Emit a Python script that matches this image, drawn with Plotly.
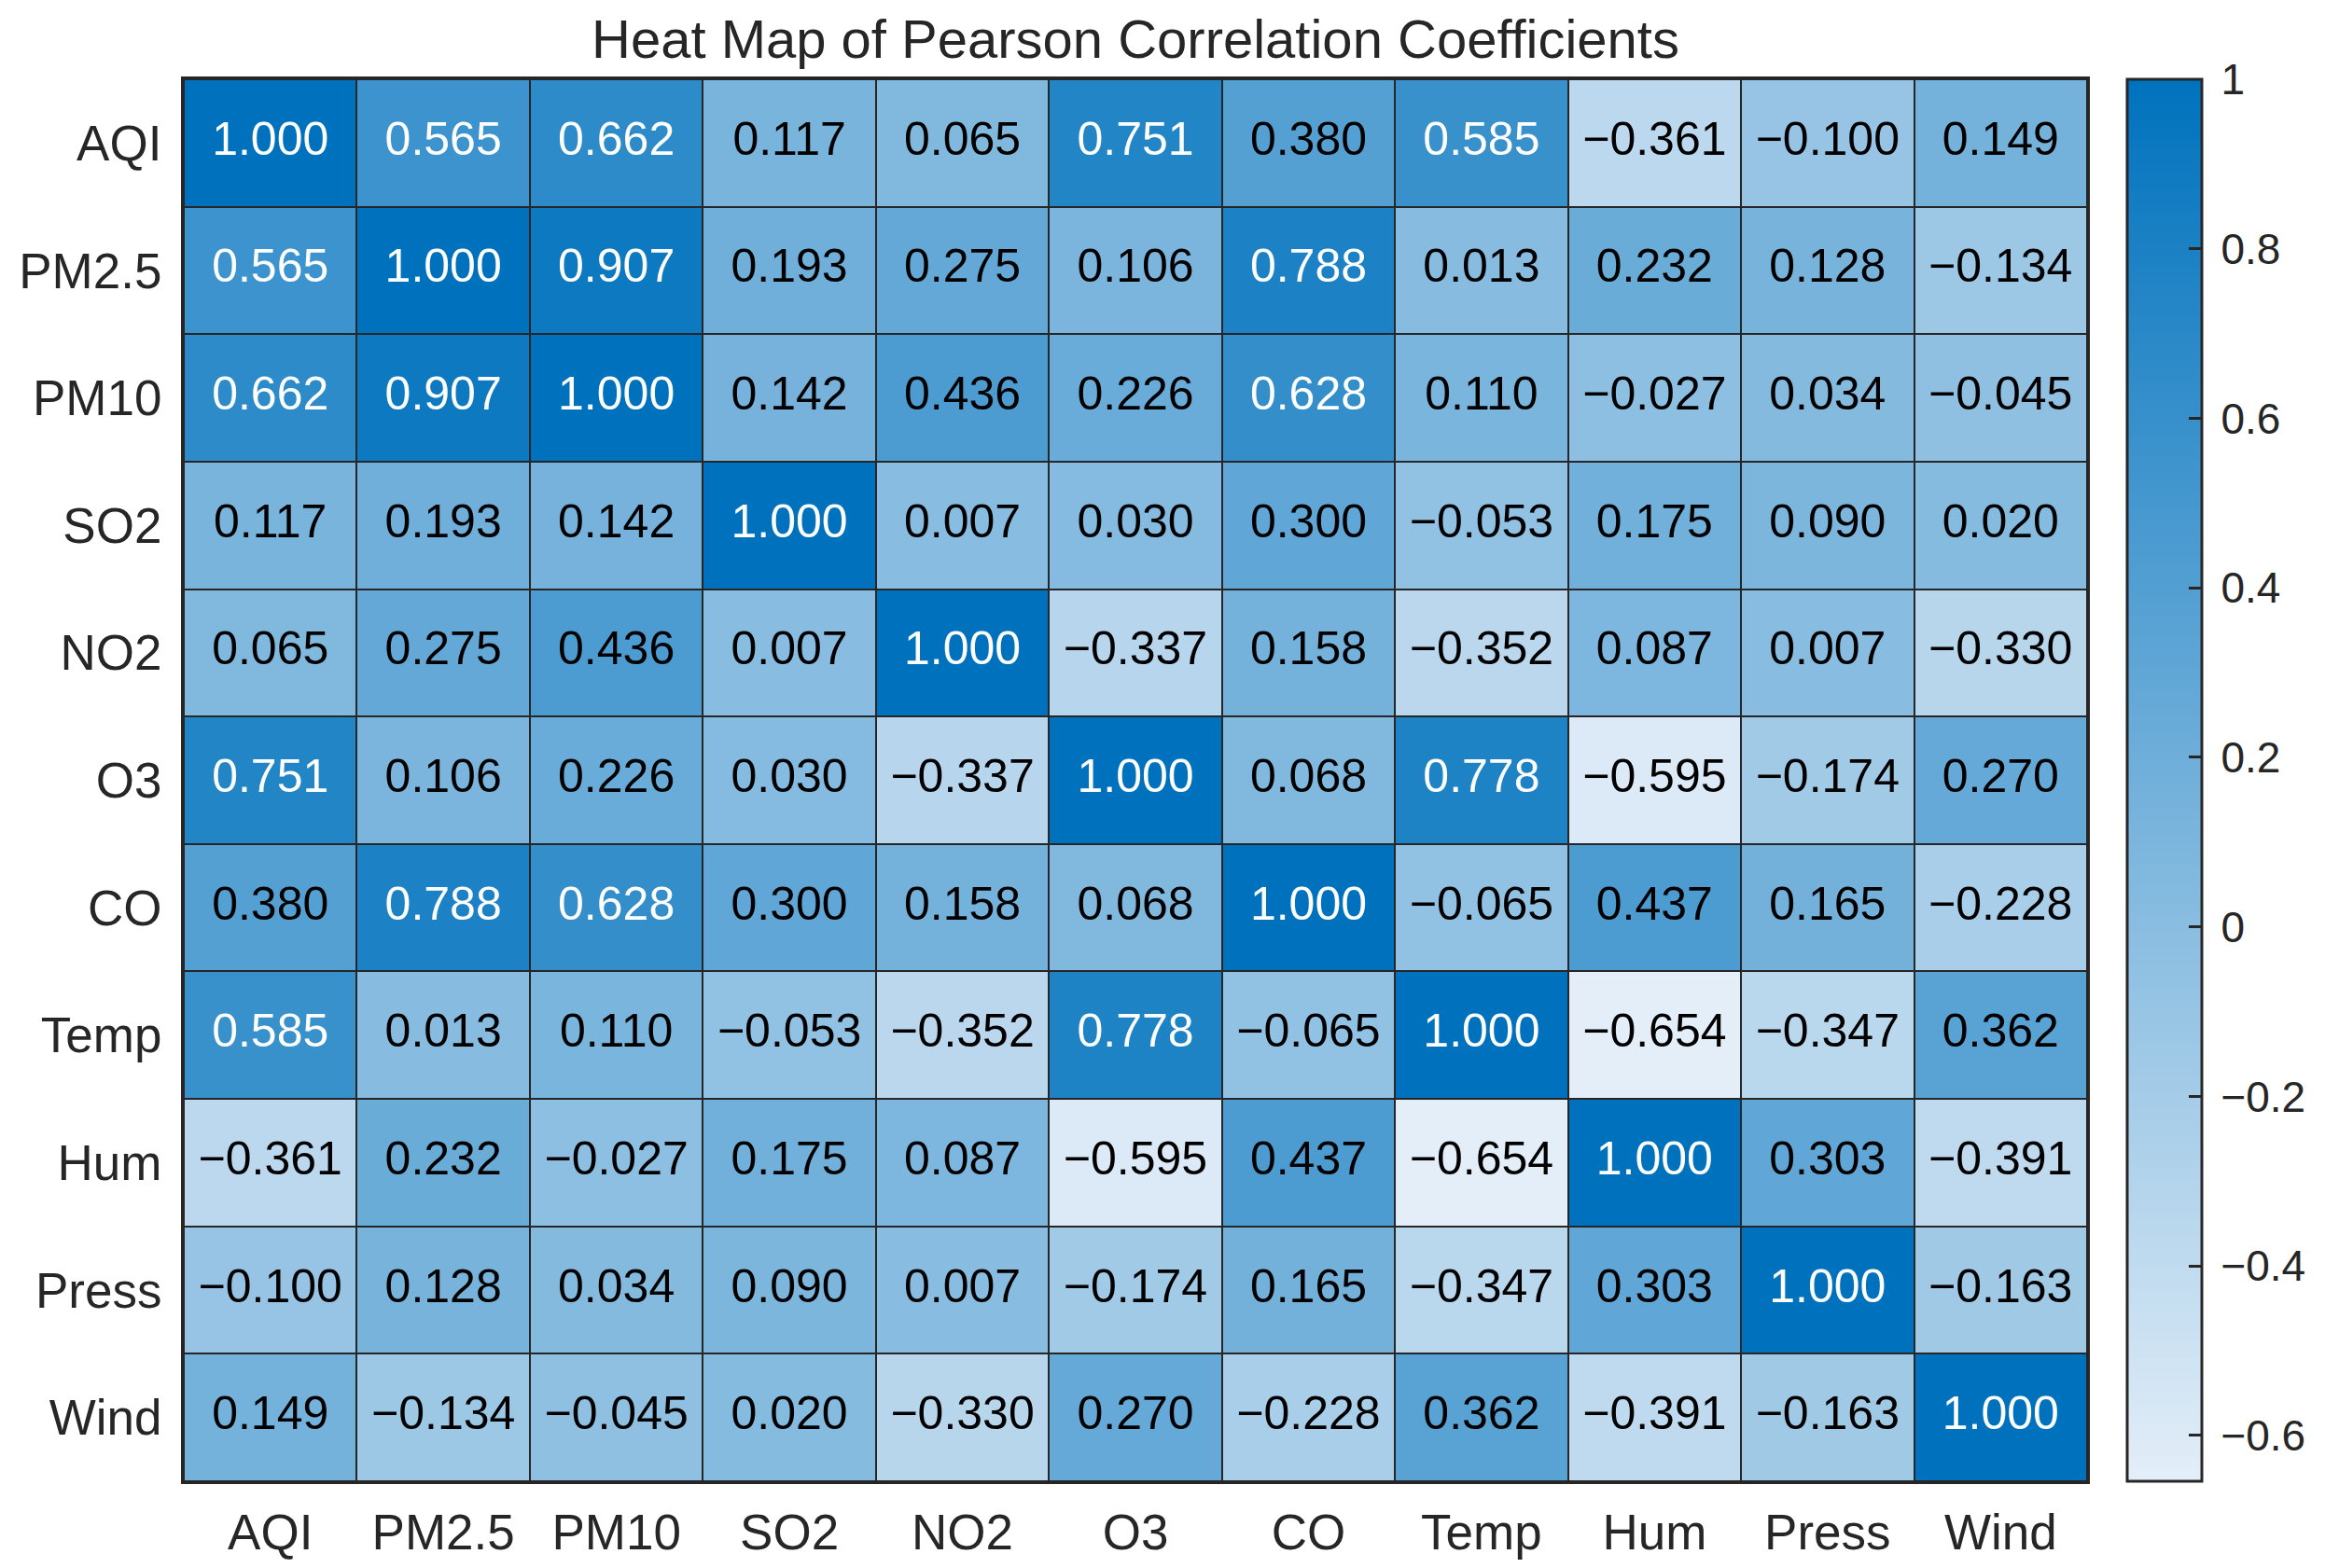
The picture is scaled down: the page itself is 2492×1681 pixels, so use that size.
import plotly.graph_objects as go

labels = ["AQI", "PM2.5", "PM10", "SO2", "NO2", "O3", "CO", "Temp", "Hum", "Press", "Wind"]

row_AQI   = [1.000, 0.565, 0.662, 0.117, 0.065, 0.751, 0.380, 0.585, -0.361, -0.100, 0.149]
row_PM25  = [0.565, 1.000, 0.907, 0.193, 0.275, 0.106, 0.788, 0.013, 0.232, 0.128, -0.134]
row_PM10  = [0.662, 0.907, 1.000, 0.142, 0.436, 0.226, 0.628, 0.110, -0.027, 0.034, -0.045]
row_SO2   = [0.117, 0.193, 0.142, 1.000, 0.007, 0.030, 0.300, -0.053, 0.175, 0.090, 0.020]
row_NO2   = [0.065, 0.275, 0.436, 0.007, 1.000, -0.337, 0.158, -0.352, 0.087, 0.007, -0.330]
row_O3    = [0.751, 0.106, 0.226, 0.030, -0.337, 1.000, 0.068, 0.778, -0.595, -0.174, 0.270]
row_CO    = [0.380, 0.788, 0.628, 0.300, 0.158, 0.068, 1.000, -0.065, 0.437, 0.165, -0.228]
row_Temp  = [0.585, 0.013, 0.110, -0.053, -0.352, 0.778, -0.065, 1.000, -0.654, -0.347, 0.362]
row_Hum   = [-0.361, 0.232, -0.027, 0.175, 0.087, -0.595, 0.437, -0.654, 1.000, 0.303, -0.391]
row_Press = [-0.100, 0.128, 0.034, 0.090, 0.007, -0.174, 0.165, -0.347, 0.303, 1.000, -0.163]
row_Wind  = [0.149, -0.134, -0.045, 0.020, -0.330, 0.270, -0.228, 0.362, -0.391, -0.163, 1.000]

z = [row_AQI, row_PM25, row_PM10, row_SO2, row_NO2, row_O3, row_CO, row_Temp, row_Hum, row_Press, row_Wind]

cb_ticks = [-0.6, -0.4, -0.2, 0, 0.2, 0.4, 0.6, 0.8, 1]

FONT = "Liberation Sans, Arial, sans-serif"
DARK = "#262626"
zmin = min(min(r) for r in z)
zmax = 1.0
n = len(labels)

def fmt(v):
    return f"{v:.3f}".replace("-", "\u2212")

def tickfmt(v):
    if v == 0:
        s = "0"
    elif v == 1:
        s = "1"
    else:
        s = f"{v:.1f}".replace("-", "\u2212")
    return "\u2009" + s

fig = go.Figure()
fig.add_trace(go.Heatmap(
    z=z, x=labels, y=labels,
    zmin=zmin, zmax=zmax,
    colorscale=[[0, "rgb(227,238,248)"], [1, "rgb(0,114,189)"]],
    xgap=2, ygap=2,
    hoverongaps=False,
    colorbar=dict(
        x=1.021, xanchor="left", xref="paper",
        y=0.5, yanchor="middle", len=1.0, lenmode="fraction",
        thickness=80, thicknessmode="pixels",
        outlinecolor=DARK, outlinewidth=3,
        tickvals=cb_ticks, ticktext=[tickfmt(v) for v in cb_ticks],
        ticks="inside", ticklen=15, tickwidth=3, tickcolor=DARK,
        tickfont=dict(family=FONT, size=46, color=DARK),
        xpad=0, ypad=0,
    ),
))

xs, ys, txt, cols = [], [], [], []
for i, row in enumerate(z):
    for j, v in enumerate(row):
        xs.append(labels[j]); ys.append(labels[i]); txt.append(fmt(v))
        cols.append("white" if v > 0.5 else "black")

fig.add_trace(go.Scatter(
    x=xs, y=ys, text=txt, mode="text",
    textfont=dict(family=FONT, size=50, color=cols),
    textposition="middle center", hoverinfo="skip", showlegend=False,
    cliponaxis=False,
))

fig.update_layout(
    width=2492, height=1681,
    margin=dict(l=186, r=263, t=77, b=101),
    paper_bgcolor="white", plot_bgcolor=DARK,
    title=dict(text="Heat Map of Pearson Correlation Coefficients",
               x=0.5, xref="paper", xanchor="center",
               y=1 - 34 / 1681, yref="container", yanchor="middle",
               font=dict(family=FONT, size=58, color=DARK)),
    font=dict(family=FONT, color=DARK),
)
fig.update_xaxes(
    type="category", categoryorder="array", categoryarray=labels,
    range=[-0.5, n - 0.5], autorange=False,
    showgrid=False, zeroline=False, ticks="",
    showline=True, mirror=True, linecolor=DARK, linewidth=3,
    tickfont=dict(family=FONT, size=53, color=DARK),
    ticklabelstandoff=6,
)
fig.update_yaxes(
    type="category", categoryorder="array", categoryarray=labels,
    range=[n - 0.5, -0.5], autorange=False,
    showgrid=False, zeroline=False, ticks="",
    showline=True, mirror=True, linecolor=DARK, linewidth=3,
    tickfont=dict(family=FONT, size=53, color=DARK),
    ticklabelstandoff=10,
)

fig.write_html("out.html")
